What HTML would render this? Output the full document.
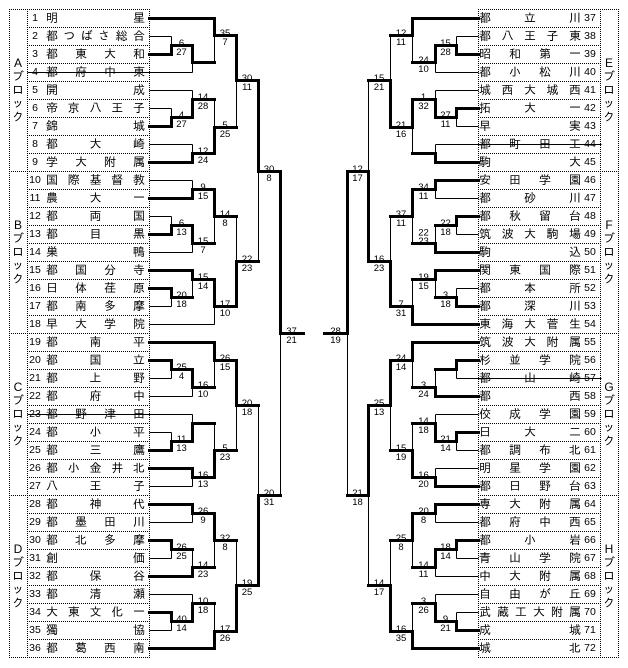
<!DOCTYPE html>
<html><head><meta charset="utf-8">
<style>
html,body{margin:0;padding:0;background:#fff}
body{width:628px;height:668px;position:relative;overflow:hidden}
p{position:absolute;left:0;margin:0;width:628px;height:18px;line-height:18px;font-size:12px;font-family:"Liberation Sans","IPAGothic","Noto Sans CJK JP",sans-serif;color:#000}
b{position:absolute;top:0;font-weight:normal;font-size:10.5px;width:14px;text-align:center;font-family:"Liberation Sans",sans-serif}
i{position:absolute;top:0;font-style:normal;display:flex;justify-content:space-between}
s{text-decoration:none}
.l b{left:28px}.l i{left:46px;width:99px}
.r b{left:583px}.r i{left:479px;width:102px}
svg{position:absolute;left:0;top:0}
.sc{font-family:"Liberation Sans",sans-serif;font-size:9.5px;text-anchor:middle;fill:#000}
.bl{font-family:"Liberation Sans","IPAGothic","Noto Sans CJK JP",sans-serif;font-size:12px;text-anchor:middle;fill:#000}
</style></head><body>
<p class="l" style="top:9px"><b>1</b><i><s>明</s><s>星</s></i></p>
<p class="l" style="top:27px"><b>2</b><i><s>都</s><s>つ</s><s>ば</s><s>さ</s><s>総</s><s>合</s></i></p>
<p class="l" style="top:45px"><b>3</b><i><s>都</s><s>東</s><s>大</s><s>和</s></i></p>
<p class="l" style="top:63px"><b>4</b><i><s>都</s><s>府</s><s>中</s><s>東</s></i></p>
<p class="l" style="top:81px"><b>5</b><i><s>開</s><s>成</s></i></p>
<p class="l" style="top:99px"><b>6</b><i><s>帝</s><s>京</s><s>八</s><s>王</s><s>子</s></i></p>
<p class="l" style="top:117px"><b>7</b><i><s>錦</s><s>城</s></i></p>
<p class="l" style="top:135px"><b>8</b><i><s>都</s><s>大</s><s>崎</s></i></p>
<p class="l" style="top:153px"><b>9</b><i><s>学</s><s>大</s><s>附</s><s>属</s></i></p>
<p class="l" style="top:171px"><b>10</b><i><s>国</s><s>際</s><s>基</s><s>督</s><s>教</s></i></p>
<p class="l" style="top:189px"><b>11</b><i><s>農</s><s>大</s><s>一</s></i></p>
<p class="l" style="top:207px"><b>12</b><i><s>都</s><s>両</s><s>国</s></i></p>
<p class="l" style="top:225px"><b>13</b><i><s>都</s><s>目</s><s>黒</s></i></p>
<p class="l" style="top:243px"><b>14</b><i><s>巣</s><s>鴨</s></i></p>
<p class="l" style="top:261px"><b>15</b><i><s>都</s><s>国</s><s>分</s><s>寺</s></i></p>
<p class="l" style="top:279px"><b>16</b><i><s>日</s><s>体</s><s>荏</s><s>原</s></i></p>
<p class="l" style="top:297px"><b>17</b><i><s>都</s><s>南</s><s>多</s><s>摩</s></i></p>
<p class="l" style="top:315px"><b>18</b><i><s>早</s><s>大</s><s>学</s><s>院</s></i></p>
<p class="l" style="top:333px"><b>19</b><i><s>都</s><s>南</s><s>平</s></i></p>
<p class="l" style="top:351px"><b>20</b><i><s>都</s><s>国</s><s>立</s></i></p>
<p class="l" style="top:369px"><b>21</b><i><s>都</s><s>上</s><s>野</s></i></p>
<p class="l" style="top:387px"><b>22</b><i><s>都</s><s>府</s><s>中</s></i></p>
<p class="l" style="top:405px"><b>23</b><i><s>都</s><s>野</s><s>津</s><s>田</s></i></p>
<p class="l" style="top:423px"><b>24</b><i><s>都</s><s>小</s><s>平</s></i></p>
<p class="l" style="top:441px"><b>25</b><i><s>都</s><s>三</s><s>鷹</s></i></p>
<p class="l" style="top:459px"><b>26</b><i><s>都</s><s>小</s><s>金</s><s>井</s><s>北</s></i></p>
<p class="l" style="top:477px"><b>27</b><i><s>八</s><s>王</s><s>子</s></i></p>
<p class="l" style="top:495px"><b>28</b><i><s>都</s><s>神</s><s>代</s></i></p>
<p class="l" style="top:513px"><b>29</b><i><s>都</s><s>墨</s><s>田</s><s>川</s></i></p>
<p class="l" style="top:531px"><b>30</b><i><s>都</s><s>北</s><s>多</s><s>摩</s></i></p>
<p class="l" style="top:549px"><b>31</b><i><s>創</s><s>価</s></i></p>
<p class="l" style="top:567px"><b>32</b><i><s>都</s><s>保</s><s>谷</s></i></p>
<p class="l" style="top:585px"><b>33</b><i><s>都</s><s>清</s><s>瀬</s></i></p>
<p class="l" style="top:603px"><b>34</b><i><s>大</s><s>東</s><s>文</s><s>化</s><s>一</s></i></p>
<p class="l" style="top:621px"><b>35</b><i><s>獨</s><s>協</s></i></p>
<p class="l" style="top:639px"><b>36</b><i><s>都</s><s>葛</s><s>西</s><s>南</s></i></p>

<p class="r" style="top:9px"><b>37</b><i><s>都</s><s>立</s><s>川</s></i></p>
<p class="r" style="top:27px"><b>38</b><i><s>都</s><s>八</s><s>王</s><s>子</s><s>東</s></i></p>
<p class="r" style="top:45px"><b>39</b><i><s>昭</s><s>和</s><s>第</s><s>一</s></i></p>
<p class="r" style="top:63px"><b>40</b><i><s>都</s><s>小</s><s>松</s><s>川</s></i></p>
<p class="r" style="top:81px"><b>41</b><i><s>城</s><s>西</s><s>大</s><s>城</s><s>西</s></i></p>
<p class="r" style="top:99px"><b>42</b><i><s>拓</s><s>大</s><s>一</s></i></p>
<p class="r" style="top:117px"><b>43</b><i><s>早</s><s>実</s></i></p>
<p class="r" style="top:135px"><b>44</b><i><s>都</s><s>町</s><s>田</s><s>工</s></i></p>
<p class="r" style="top:153px"><b>45</b><i><s>駒</s><s>大</s></i></p>
<p class="r" style="top:171px"><b>46</b><i><s>安</s><s>田</s><s>学</s><s>園</s></i></p>
<p class="r" style="top:189px"><b>47</b><i><s>都</s><s>砂</s><s>川</s></i></p>
<p class="r" style="top:207px"><b>48</b><i><s>都</s><s>秋</s><s>留</s><s>台</s></i></p>
<p class="r" style="top:225px"><b>49</b><i><s>筑</s><s>波</s><s>大</s><s>駒</s><s>場</s></i></p>
<p class="r" style="top:243px"><b>50</b><i><s>駒</s><s>込</s></i></p>
<p class="r" style="top:261px"><b>51</b><i><s>関</s><s>東</s><s>国</s><s>際</s></i></p>
<p class="r" style="top:279px"><b>52</b><i><s>都</s><s>本</s><s>所</s></i></p>
<p class="r" style="top:297px"><b>53</b><i><s>都</s><s>深</s><s>川</s></i></p>
<p class="r" style="top:315px"><b>54</b><i><s>東</s><s>海</s><s>大</s><s>菅</s><s>生</s></i></p>
<p class="r" style="top:333px"><b>55</b><i><s>筑</s><s>波</s><s>大</s><s>附</s><s>属</s></i></p>
<p class="r" style="top:351px"><b>56</b><i><s>杉</s><s>並</s><s>学</s><s>院</s></i></p>
<p class="r" style="top:369px"><b>57</b><i><s>都</s><s>山</s><s>崎</s></i></p>
<p class="r" style="top:387px"><b>58</b><i><s>都</s><s>西</s></i></p>
<p class="r" style="top:405px"><b>59</b><i><s>佼</s><s>成</s><s>学</s><s>園</s></i></p>
<p class="r" style="top:423px"><b>60</b><i><s>日</s><s>大</s><s>二</s></i></p>
<p class="r" style="top:441px"><b>61</b><i><s>都</s><s>調</s><s>布</s><s>北</s></i></p>
<p class="r" style="top:459px"><b>62</b><i><s>明</s><s>星</s><s>学</s><s>園</s></i></p>
<p class="r" style="top:477px"><b>63</b><i><s>都</s><s>日</s><s>野</s><s>台</s></i></p>
<p class="r" style="top:495px"><b>64</b><i><s>専</s><s>大</s><s>附</s><s>属</s></i></p>
<p class="r" style="top:513px"><b>65</b><i><s>都</s><s>府</s><s>中</s><s>西</s></i></p>
<p class="r" style="top:531px"><b>66</b><i><s>都</s><s>小</s><s>岩</s></i></p>
<p class="r" style="top:549px"><b>67</b><i><s>青</s><s>山</s><s>学</s><s>院</s></i></p>
<p class="r" style="top:567px"><b>68</b><i><s>中</s><s>大</s><s>附</s><s>属</s></i></p>
<p class="r" style="top:585px"><b>69</b><i><s>自</s><s>由</s><s>が</s><s>丘</s></i></p>
<p class="r" style="top:603px"><b>70</b><i><s>武</s><s>蔵</s><s>工</s><s>大</s><s>附</s><s>属</s></i></p>
<p class="r" style="top:621px"><b>71</b><i><s>成</s><s>城</s></i></p>
<p class="r" style="top:639px"><b>72</b><i><s>城</s><s>北</s></i></p>

<svg width="628" height="668" viewBox="0 0 628 668" xmlns="http://www.w3.org/2000/svg">
<g fill="none" stroke="#000" stroke-width="1" stroke-dasharray="1 1" shape-rendering="crispEdges">
<path d="M9 9.5H150M27 27.5H150M27 45.5H150M27 63.5H150M27 81.5H150M27 99.5H150M27 117.5H150M27 135.5H150M27 153.5H150M9 171.5H150M27 189.5H150M27 207.5H150M27 225.5H150M27 243.5H150M27 261.5H150M27 279.5H150M27 297.5H150M27 315.5H150M9 333.5H150M27 351.5H150M27 369.5H150M27 387.5H150M27 405.5H150M27 423.5H150M27 441.5H150M27 459.5H150M27 477.5H150M9 495.5H150M27 513.5H150M27 531.5H150M27 549.5H150M27 567.5H150M27 585.5H150M27 603.5H150M27 621.5H150M27 639.5H150M9 657.5H150"/>
<path d="M9.5 9V658M27.5 9V658M149.5 9V658"/>
<path d="M478 9.5H619M478 27.5H601M478 45.5H601M478 63.5H601M478 81.5H601M478 99.5H601M478 117.5H601M478 135.5H601M478 153.5H601M478 171.5H619M478 189.5H601M478 207.5H601M478 225.5H601M478 243.5H601M478 261.5H601M478 279.5H601M478 297.5H601M478 315.5H601M478 333.5H619M478 351.5H601M478 369.5H601M478 387.5H601M478 405.5H601M478 423.5H601M478 441.5H601M478 459.5H601M478 477.5H601M478 495.5H619M478 513.5H601M478 531.5H601M478 549.5H601M478 567.5H601M478 585.5H601M478 603.5H601M478 621.5H601M478 639.5H601M478 657.5H619"/>
<path d="M478.5 9V658M600.5 9V658M618.5 9V658"/>
</g>

<text class="bl"><tspan x="18" y="67">A</tspan><tspan x="18" y="80.5">ブ</tspan><tspan x="18" y="94">ロ</tspan><tspan x="18" y="107.5">ッ</tspan><tspan x="18" y="121">ク</tspan></text>
<text class="bl"><tspan x="18" y="229">B</tspan><tspan x="18" y="242.5">ブ</tspan><tspan x="18" y="256">ロ</tspan><tspan x="18" y="269.5">ッ</tspan><tspan x="18" y="283">ク</tspan></text>
<text class="bl"><tspan x="18" y="391">C</tspan><tspan x="18" y="404.5">ブ</tspan><tspan x="18" y="418">ロ</tspan><tspan x="18" y="431.5">ッ</tspan><tspan x="18" y="445">ク</tspan></text>
<text class="bl"><tspan x="18" y="553">D</tspan><tspan x="18" y="566.5">ブ</tspan><tspan x="18" y="580">ロ</tspan><tspan x="18" y="593.5">ッ</tspan><tspan x="18" y="607">ク</tspan></text>
<text class="bl"><tspan x="609" y="67">E</tspan><tspan x="609" y="80.5">ブ</tspan><tspan x="609" y="94">ロ</tspan><tspan x="609" y="107.5">ッ</tspan><tspan x="609" y="121">ク</tspan></text>
<text class="bl"><tspan x="609" y="229">F</tspan><tspan x="609" y="242.5">ブ</tspan><tspan x="609" y="256">ロ</tspan><tspan x="609" y="269.5">ッ</tspan><tspan x="609" y="283">ク</tspan></text>
<text class="bl"><tspan x="609" y="391">G</tspan><tspan x="609" y="404.5">ブ</tspan><tspan x="609" y="418">ロ</tspan><tspan x="609" y="431.5">ッ</tspan><tspan x="609" y="445">ク</tspan></text>
<text class="bl"><tspan x="609" y="553">H</tspan><tspan x="609" y="566.5">ブ</tspan><tspan x="609" y="580">ロ</tspan><tspan x="609" y="593.5">ッ</tspan><tspan x="609" y="607">ク</tspan></text>

<g class="sc">
<text x="181.5" y="46">6</text><text x="181.5" y="55">27</text>
<text x="225" y="36">35</text><text x="225" y="45">7</text>
<text x="181.5" y="118">4</text><text x="181.5" y="127">27</text>
<text x="203" y="100">14</text><text x="203" y="109">28</text>
<text x="203" y="154">12</text><text x="203" y="163">24</text>
<text x="225" y="128">5</text><text x="225" y="137">25</text>
<text x="247" y="81">30</text><text x="247" y="90">11</text>
<text x="203" y="190">9</text><text x="203" y="199">15</text>
<text x="181.5" y="226">6</text><text x="181.5" y="235">13</text>
<text x="203" y="244">15</text><text x="203" y="253">7</text>
<text x="225" y="217">14</text><text x="225" y="226">8</text>
<text x="181.5" y="298">20</text><text x="181.5" y="307">18</text>
<text x="203" y="280">15</text><text x="203" y="289">14</text>
<text x="225" y="307">17</text><text x="225" y="316">10</text>
<text x="247" y="262">22</text><text x="247" y="271">23</text>
<text x="269" y="172">30</text><text x="269" y="181">8</text>
<text x="291.5" y="334">37</text><text x="291.5" y="343">21</text>
<text x="181.5" y="370">25</text><text x="181.5" y="379">4</text>
<text x="203" y="388">16</text><text x="203" y="397">10</text>
<text x="225" y="361">26</text><text x="225" y="370">15</text>
<text x="181.5" y="442">11</text><text x="181.5" y="451">13</text>
<text x="203" y="478">16</text><text x="203" y="487">13</text>
<text x="225" y="451">5</text><text x="225" y="460">23</text>
<text x="247" y="406">20</text><text x="247" y="415">18</text>
<text x="269" y="496">20</text><text x="269" y="505">31</text>
<text x="203" y="514">26</text><text x="203" y="523">9</text>
<text x="181.5" y="550">26</text><text x="181.5" y="559">25</text>
<text x="203" y="568">14</text><text x="203" y="577">23</text>
<text x="225" y="541">32</text><text x="225" y="550">8</text>
<text x="181.5" y="622">40</text><text x="181.5" y="631">14</text>
<text x="203" y="604">10</text><text x="203" y="613">18</text>
<text x="225" y="632">17</text><text x="225" y="641">26</text>
<text x="247" y="586">19</text><text x="247" y="595">25</text>

<text x="445.5" y="46">15</text><text x="445.5" y="55">28</text>
<text x="423.5" y="63">24</text><text x="423.5" y="72">10</text>
<text x="401" y="36">12</text><text x="401" y="45">11</text>
<text x="445.5" y="118">27</text><text x="445.5" y="127">11</text>
<text x="423.5" y="100">1</text><text x="423.5" y="109">32</text>
<text x="401" y="128">21</text><text x="401" y="137">16</text>
<text x="379" y="81">15</text><text x="379" y="90">21</text>
<text x="423.5" y="190">34</text><text x="423.5" y="199">11</text>
<text x="445.5" y="226">22</text><text x="445.5" y="235">18</text>
<text x="423.5" y="235.5">22</text><text x="423.5" y="244">23</text>
<text x="401" y="217">37</text><text x="401" y="226">11</text>
<text x="445.5" y="298">3</text><text x="445.5" y="307">18</text>
<text x="423.5" y="280">19</text><text x="423.5" y="289">15</text>
<text x="401" y="307">7</text><text x="401" y="316">31</text>
<text x="379" y="262">16</text><text x="379" y="271">23</text>
<text x="357.5" y="172">12</text><text x="357.5" y="181">17</text>
<text x="335.5" y="334">28</text><text x="335.5" y="343">19</text>
<text x="423.5" y="388">3</text><text x="423.5" y="397">24</text>
<text x="401" y="361">24</text><text x="401" y="370">14</text>
<text x="445.5" y="442">21</text><text x="445.5" y="451">14</text>
<text x="423.5" y="424">14</text><text x="423.5" y="433">18</text>
<text x="423.5" y="478">16</text><text x="423.5" y="487">20</text>
<text x="401" y="451">15</text><text x="401" y="460">19</text>
<text x="379" y="406">25</text><text x="379" y="415">13</text>
<text x="357.5" y="496">21</text><text x="357.5" y="505">18</text>
<text x="423.5" y="514">20</text><text x="423.5" y="523">8</text>
<text x="445.5" y="550">18</text><text x="445.5" y="559">14</text>
<text x="423.5" y="568">14</text><text x="423.5" y="577">11</text>
<text x="401" y="541">25</text><text x="401" y="550">8</text>
<text x="445.5" y="622">9</text><text x="445.5" y="631">21</text>
<text x="423.5" y="604">3</text><text x="423.5" y="613">26</text>
<text x="401" y="632">16</text><text x="401" y="641">35</text>
<text x="379" y="586">14</text><text x="379" y="595">17</text>
</g>

<g transform="translate(0.5,0.5)" fill="none" stroke="#000" stroke-width="1" shape-rendering="crispEdges">
<path d="M149 36H171M149 90H192M149 108H171M149 144H192M149 180H192M149 216H171M149 252H192M149 306H171M149 324H214M149 378H171M149 396H192M149 432H171M149 486H192M149 522H192M149 558H171M149 594H192M149 630H171M27 72H192M27 414H192"/>
<path d="M171 36V45M192 72V62M214 62V35M171 108V117M192 90V99M192 144V153M214 99V127M236 127V80M192 180V189M171 216V225M192 252V243M214 243V216M171 306V297M192 297V279M214 324V306M236 216V261M258 261V171M280 495V333M171 378V369M192 396V387M214 387V360M171 432V441M192 414V423M192 486V477M214 423V450M236 450V405M192 522V513M171 558V549M192 549V567M214 567V540M171 630V621M192 594V603M214 603V631M236 540V585M258 405V495"/>
<path d="M478 36H456M478 72H435M478 90H435M478 126H456M478 198H435M478 234H456M478 288H456M478 414H435M478 450H456M478 468H435M478 522H435M478 558H456M478 576H435M478 594H435M478 612H456M435 144H601M456 378H601"/>
<path d="M456 36V45M435 72V62M412 62V35M456 126V117M435 90V99M435 144V153M412 153V127M390 35V80M435 198V189M456 234V225M435 225V243M412 243V216M456 288V297M435 297V279M412 279V306M390 216V261M368 80V171M347 495V333M456 378V369M435 369V387M412 387V360M456 450V441M435 414V423M435 468V477M412 423V450M390 450V405M435 522V513M456 558V549M435 576V567M412 567V540M456 612V621M435 594V603M412 603V631M390 540V585M368 585V495"/>
</g>

<g transform="translate(0.5,0.5)" fill="none" stroke="#000" stroke-width="3" stroke-linecap="square" stroke-linejoin="miter" shape-rendering="crispEdges">
<path d="M149 18H214M149 54H171M149 126H171M149 162H192M149 198H192M149 234H171M149 270H192M149 288H171M149 342H214M149 360H171M149 450H171M149 468H192M149 504H192M149 540H171M149 576H192M149 612H171M149 648H214"/>
<path d="M171 54V45H192M192 45V62H214M214 18V35H236M171 126V117H192M192 117V99H214M192 162V153H214M214 153V127H236M236 35V80H258M192 198V189H214M171 234V225H192M192 225V243H214M214 189V216H236M171 288V297H192M192 270V279H214M214 279V306H236M236 306V261H258M258 80V171H280M280 171V333H303M171 360V369H192M192 369V387H214M214 342V360H236M171 450V441H192M192 441V423H214M192 468V477H214M214 477V450H236M236 360V405H258M192 504V513H214M171 540V549H192M192 576V567H214M214 513V540H236M171 612V621H192M192 621V603H214M214 648V631H236M236 631V585H258M258 585V495H280"/>
<path d="M478 18H412M478 54H456M478 108H456M478 162H435M478 180H435M478 216H456M478 252H435M478 270H435M478 306H456M478 324H412M478 342H412M478 360H456M478 396H435M478 432H456M478 486H435M478 504H435M478 540H456M478 630H456M478 648H412"/>
<path d="M456 54V45H435M435 45V62H412M412 18V35H390M456 108V117H435M435 117V99H412M435 162V153H412M412 99V127H390M390 127V80H368M435 180V189H412M456 216V225H435M435 252V243H412M412 189V216H390M456 306V297H435M435 270V279H412M412 324V306H390M390 306V261H368M368 261V171H347M347 171V333H324M456 360V369H435M435 396V387H412M412 342V360H390M456 432V441H435M435 441V423H412M435 486V477H412M412 477V450H390M390 360V405H368M435 504V513H412M456 540V549H435M435 549V567H412M412 513V540H390M456 630V621H435M435 621V603H412M412 648V631H390M390 631V585H368M368 405V495H347"/>
</g>
</svg>
</body></html>
